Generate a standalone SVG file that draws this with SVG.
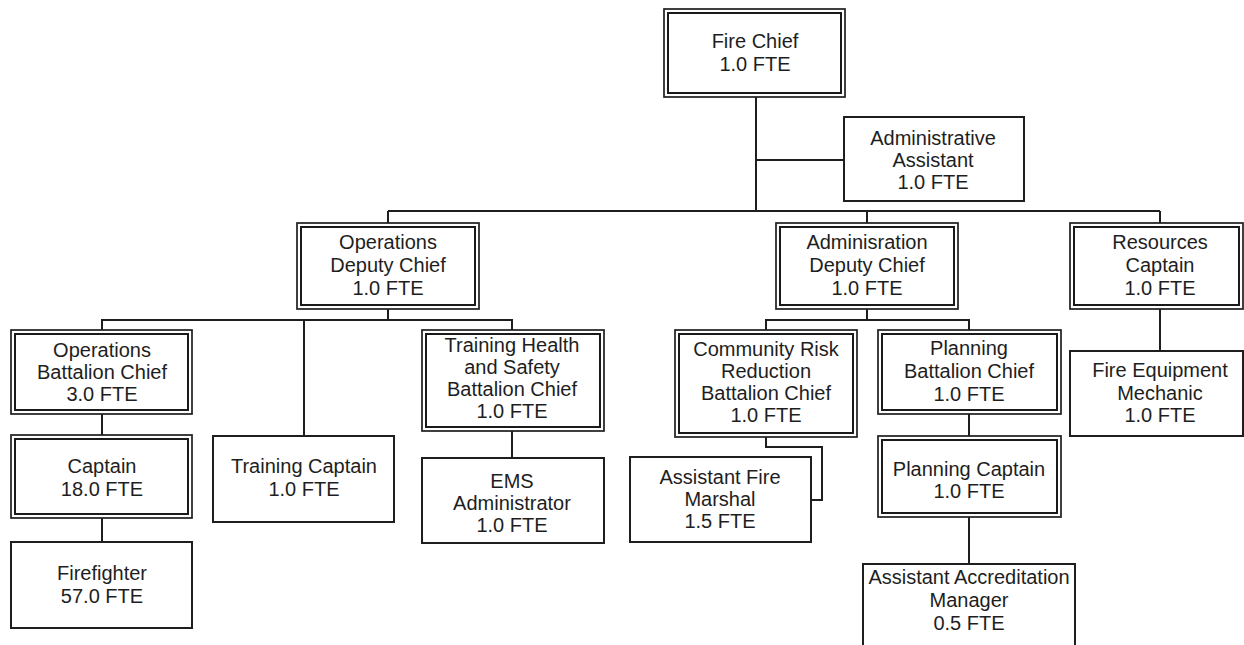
<svg xmlns="http://www.w3.org/2000/svg" width="1244" height="645" viewBox="0 0 1244 645">
  <style>
    .bg { fill: #ffffff; }
    .box { fill: #ffffff; stroke: #1e1e1e; stroke-width: 2; }
    .outer { fill: #ffffff; stroke: #1e1e1e; stroke-width: 1.7; }
    .inner { fill: none; stroke: #1a1a1a; stroke-width: 2; }
    .wire { fill: none; stroke: #1e1e1e; stroke-width: 2; }
    text { font-family: "Liberation Sans", Arial, sans-serif; font-size: 20px; fill: #1e1e1e; text-anchor: middle; }
  </style>

  <rect class="bg" x="0" y="0" width="1244" height="645"/>

  <!-- reporting lines -->
  <g id="connectors">
    <path class="wire" d="M756,97 V211"/>
    <path class="wire" d="M756,160 H844"/>
    <path class="wire" d="M388,211 H1160"/>
    <path class="wire" d="M388,211 V223 M867,211 V223 M1160,211 V223"/>
    <path class="wire" d="M388,309 V320"/>
    <path class="wire" d="M102,330 V320 H512 V330"/>
    <path class="wire" d="M304,320 V436"/>
    <path class="wire" d="M102,414 V435"/>
    <path class="wire" d="M102,518 V542"/>
    <path class="wire" d="M512,431 V458"/>
    <path class="wire" d="M867,309 V320"/>
    <path class="wire" d="M766,330 V320 H969 V330"/>
    <path class="wire" d="M766,437 V447 H822 V500 H811"/>
    <path class="wire" d="M969,414 V436"/>
    <path class="wire" d="M969,517 V564"/>
    <path class="wire" d="M1160,309 V351"/>
  </g>

  <!-- leadership -->
  <g id="fire-chief">
    <rect class="outer" x="664" y="9" width="181" height="88"/>
    <rect class="inner" x="668" y="13" width="173" height="80"/>
    <text x="755" y="48">Fire Chief</text>
    <text x="755" y="71">1.0 FTE</text>
  </g>

  <g id="administrative-assistant">
    <rect class="box" x="844" y="117" width="180" height="84"/>
    <text x="933" y="145">Administrative</text>
    <text x="933" y="167">Assistant</text>
    <text x="933" y="189">1.0 FTE</text>
  </g>

  <g id="operations-deputy-chief">
    <rect class="outer" x="297" y="223" width="182" height="86"/>
    <rect class="inner" x="301" y="227" width="174" height="78"/>
    <text x="388" y="249">Operations</text>
    <text x="388" y="272">Deputy Chief</text>
    <text x="388" y="295">1.0 FTE</text>
  </g>

  <g id="administration-deputy-chief">
    <rect class="outer" x="776" y="223" width="182" height="86"/>
    <rect class="inner" x="780" y="227" width="174" height="78"/>
    <text x="867" y="249">Adminisration</text>
    <text x="867" y="272">Deputy Chief</text>
    <text x="867" y="295">1.0 FTE</text>
  </g>

  <g id="resources-captain">
    <rect class="outer" x="1070" y="223" width="173" height="86"/>
    <rect class="inner" x="1074" y="227" width="165" height="78"/>
    <text x="1160" y="249">Resources</text>
    <text x="1160" y="272">Captain</text>
    <text x="1160" y="295">1.0 FTE</text>
  </g>

  <!-- operations branch -->
  <g id="operations-battalion-chief">
    <rect class="outer" x="11" y="330" width="181" height="84"/>
    <rect class="inner" x="15" y="334" width="173" height="76"/>
    <text x="102" y="357">Operations</text>
    <text x="102" y="379">Battalion Chief</text>
    <text x="102" y="401">3.0 FTE</text>
  </g>

  <g id="captain">
    <rect class="outer" x="11" y="435" width="181" height="83"/>
    <rect class="inner" x="15" y="439" width="173" height="75"/>
    <text x="102" y="473">Captain</text>
    <text x="102" y="496">18.0 FTE</text>
  </g>

  <g id="firefighter">
    <rect class="box" x="11" y="542" width="181" height="86"/>
    <text x="102" y="580">Firefighter</text>
    <text x="102" y="603">57.0 FTE</text>
  </g>

  <g id="training-captain">
    <rect class="box" x="213" y="436" width="181" height="86"/>
    <text x="304" y="473">Training Captain</text>
    <text x="304" y="496">1.0 FTE</text>
  </g>

  <g id="training-health-safety-battalion-chief">
    <rect class="outer" x="422" y="330" width="182" height="101"/>
    <rect class="inner" x="426" y="334" width="174" height="93"/>
    <text x="512" y="352">Training Health</text>
    <text x="512" y="374">and Safety</text>
    <text x="512" y="396">Battalion Chief</text>
    <text x="512" y="418">1.0 FTE</text>
  </g>

  <g id="ems-administrator">
    <rect class="box" x="422" y="458" width="182" height="85"/>
    <text x="512" y="488">EMS</text>
    <text x="512" y="510">Administrator</text>
    <text x="512" y="532">1.0 FTE</text>
  </g>

  <!-- administration branch -->
  <g id="community-risk-reduction-battalion-chief">
    <rect class="outer" x="675" y="330" width="182" height="107"/>
    <rect class="inner" x="679" y="334" width="174" height="99"/>
    <text x="766" y="356">Community Risk</text>
    <text x="766" y="378">Reduction</text>
    <text x="766" y="400">Battalion Chief</text>
    <text x="766" y="422">1.0 FTE</text>
  </g>

  <g id="assistant-fire-marshal">
    <rect class="box" x="630" y="457" width="181" height="85"/>
    <text x="720" y="484">Assistant Fire</text>
    <text x="720" y="506">Marshal</text>
    <text x="720" y="528">1.5 FTE</text>
  </g>

  <g id="planning-battalion-chief">
    <rect class="outer" x="878" y="330" width="183" height="84"/>
    <rect class="inner" x="882" y="334" width="175" height="76"/>
    <text x="969" y="355">Planning</text>
    <text x="969" y="378">Battalion Chief</text>
    <text x="969" y="401">1.0 FTE</text>
  </g>

  <g id="planning-captain">
    <rect class="outer" x="878" y="436" width="183" height="81"/>
    <rect class="inner" x="882" y="440" width="175" height="73"/>
    <text x="969" y="476">Planning Captain</text>
    <text x="969" y="498">1.0 FTE</text>
  </g>

  <g id="assistant-accreditation-manager">
    <rect class="box" x="863" y="564" width="212" height="100"/>
    <text x="969" y="584">Assistant Accreditation</text>
    <text x="969" y="607">Manager</text>
    <text x="969" y="630">0.5 FTE</text>
  </g>

  <!-- resources branch -->
  <g id="fire-equipment-mechanic">
    <rect class="box" x="1070" y="351" width="173" height="85"/>
    <text x="1160" y="377">Fire Equipment</text>
    <text x="1160" y="400">Mechanic</text>
    <text x="1160" y="422">1.0 FTE</text>
  </g>
</svg>
